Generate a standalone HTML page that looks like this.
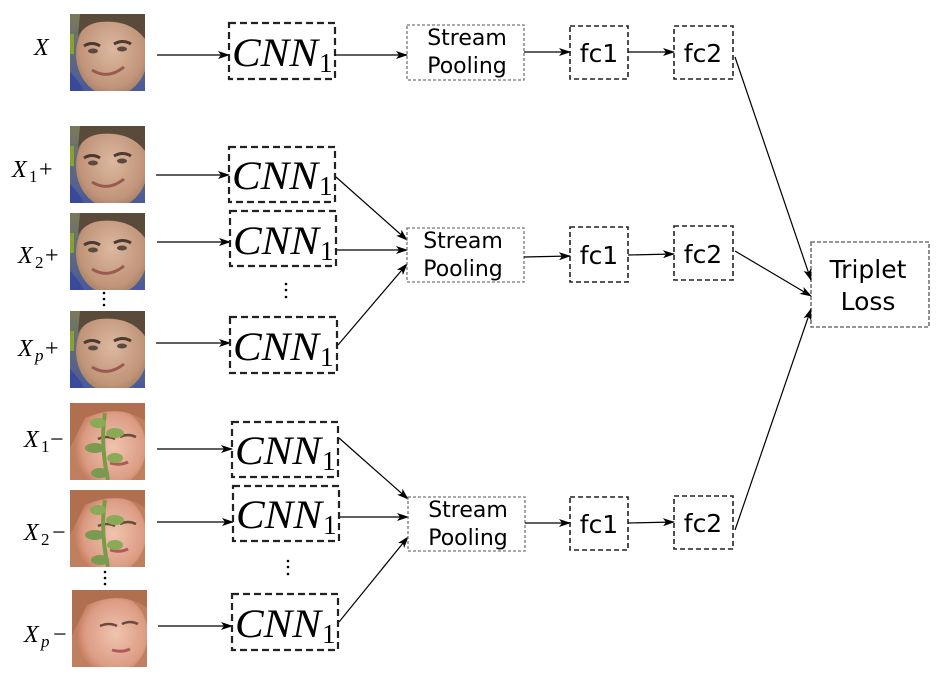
<!DOCTYPE html>
<html><head><meta charset="utf-8"><style>
html,body{margin:0;padding:0;background:#fff;}
svg{display:block}
.cnn{font-family:"Liberation Serif",serif;font-style:italic;font-size:40px;fill:#000}
.sub{font-family:"Liberation Serif",serif;font-size:27px;fill:#000}
.lab{font-family:"Liberation Serif",serif;font-style:italic;font-size:24px;fill:#000}
.labn{font-family:"Liberation Serif",serif;font-size:24px;fill:#000}
.labs{font-family:"Liberation Serif",serif;font-size:17px;fill:#000}
.labsi{font-family:"Liberation Serif",serif;font-style:italic;font-size:17px;fill:#000}
.sans{font-family:"DejaVu Sans","Liberation Sans",sans-serif;font-size:22px;fill:#000}
</style></head><body>
<svg width="945" height="675" viewBox="0 0 945 675" xmlns="http://www.w3.org/2000/svg">
<defs>
<clipPath id="c"><rect width="75" height="77"/></clipPath>
<marker id="a" markerWidth="12" markerHeight="8" refX="11" refY="4" orient="auto" markerUnits="userSpaceOnUse">
<path d="M0,0 L12,4 L0,8 L3,4 z" fill="#000"/></marker>
<linearGradient id="bg1" x1="0" y1="0" x2="0" y2="1"><stop offset="0" stop-color="#7a7a5a"/><stop offset="1" stop-color="#4a5a9a"/></linearGradient>
<radialGradient id="sk1" cx="0.5" cy="0.45" r="0.6"><stop offset="0" stop-color="#dcb8a0"/><stop offset="0.75" stop-color="#c09478"/><stop offset="1" stop-color="#9a7a62"/></radialGradient>
<radialGradient id="sk2" cx="0.55" cy="0.5" r="0.6"><stop offset="0" stop-color="#f0c4ae"/><stop offset="0.7" stop-color="#dc9c84"/><stop offset="1" stop-color="#b8704f"/></radialGradient>
<g id="m"><g clip-path="url(#c)">
<rect width="75" height="77" fill="url(#bg1)"/>
<ellipse cx="42" cy="40" rx="36" ry="42" fill="url(#sk1)"/>
<path d="M10,0 L75,0 L75,25 Q60,5 30,8 Q15,10 8,22z" fill="#5a4a3a"/>
<path d="M14,32 q8,-5 16,0 M44,30 q9,-5 17,0" stroke="#4a3a30" stroke-width="3" fill="none"/>
<ellipse cx="23" cy="37" rx="5" ry="2.5" fill="#5a4a40"/><ellipse cx="52" cy="35" rx="5" ry="2.5" fill="#5a4a40"/>
<path d="M22,56 q16,10 32,-3" stroke="#9a5a50" stroke-width="3" fill="none"/>
<path d="M0,58 q10,10 14,19 L0,77z" fill="#3a4a9a"/>
<rect x="0" y="20" width="4" height="20" fill="#8aa030"/>
</g></g>
<g id="w"><g clip-path="url(#c)">
<rect width="75" height="77" fill="#c08060"/>
<ellipse cx="40" cy="44" rx="36" ry="40" fill="url(#sk2)"/>
<path d="M0,0 L75,0 L75,18 Q50,0 15,15 L0,45z" fill="#b07050"/>
<path d="M28,36 q9,-4 17,0 M50,34 q8,-4 16,0" stroke="#6a4a40" stroke-width="2.5" fill="none"/>
<path d="M40,60 q10,3 18,-1" stroke="#b05a5a" stroke-width="3" fill="none"/>
</g></g>
<g id="leaf"><g clip-path="url(#c)">
<path d="M35,10 Q30,40 38,77" stroke="#7a9a48" stroke-width="4" fill="none"/>
<ellipse cx="28" cy="20" rx="8" ry="5" fill="#8aaa58"/><ellipse cx="45" cy="30" rx="9" ry="5" fill="#8aaa58"/>
<ellipse cx="25" cy="45" rx="10" ry="5" fill="#7a9a50"/><ellipse cx="45" cy="55" rx="8" ry="5" fill="#8aaa58"/>
<ellipse cx="30" cy="70" rx="9" ry="5" fill="#7a9a50"/>
</g></g>
</defs>

<use href="#m" x="70" y="14"/>
<use href="#m" x="70" y="126"/>
<use href="#m" x="70" y="213"/>
<use href="#m" x="70" y="311"/>
<use href="#w" x="70" y="403"/><use href="#leaf" x="70" y="403"/>
<use href="#w" x="70" y="490"/><use href="#leaf" x="70" y="490"/>
<use href="#w" x="72" y="590"/>

<text class="lab" x="34" y="55">X</text>
<text class="lab" x="12" y="177">X</text><text class="labs" x="29" y="182">1</text><text class="labn" x="39" y="177">+</text>
<text class="lab" x="18" y="263">X</text><text class="labs" x="35" y="268">2</text><text class="labn" x="45" y="263">+</text>
<text class="lab" x="18" y="356">X</text><text class="labsi" x="35" y="361">p</text><text class="labn" x="45" y="356">+</text>
<text class="lab" x="24" y="447">X</text><text class="labs" x="41" y="452">1</text><text class="labn" x="50" y="447">−</text>
<text class="lab" x="24" y="540">X</text><text class="labs" x="41" y="545">2</text><text class="labn" x="52" y="540">−</text>
<text class="lab" x="24" y="642">X</text><text class="labsi" x="41" y="647">p</text><text class="labn" x="53" y="642">−</text>
<g fill="#000">
<circle cx="104" cy="293" r="1.3"/><circle cx="104" cy="299" r="1.3"/><circle cx="104" cy="305" r="1.3"/>
<circle cx="105" cy="572" r="1.3"/><circle cx="105" cy="578" r="1.3"/><circle cx="105" cy="584" r="1.3"/>
<circle cx="286" cy="284" r="1.3"/><circle cx="286" cy="290" r="1.3"/><circle cx="286" cy="297" r="1.3"/>
<circle cx="288" cy="561" r="1.3"/><circle cx="288" cy="567" r="1.3"/><circle cx="288" cy="574" r="1.3"/>
</g>

<g stroke="#000" stroke-width="1.3" marker-end="url(#a)">
<line x1="157" y1="55" x2="229" y2="55"/>
<line x1="156" y1="175" x2="229" y2="175"/>
<line x1="157" y1="242" x2="230" y2="242"/>
<line x1="156" y1="343" x2="230" y2="343"/>
<line x1="157" y1="449" x2="232" y2="449"/>
<line x1="157" y1="522" x2="233" y2="522"/>
<line x1="158" y1="626" x2="232" y2="626"/>
</g>

<g fill="none" stroke="#222" stroke-width="2.2" stroke-dasharray="7,4">
<rect x="229" y="23" width="106" height="56"/>
<rect x="229" y="147" width="106" height="55"/>
<rect x="230" y="211" width="106" height="55"/>
<rect x="230" y="317" width="107" height="56"/>
<rect x="232" y="422" width="106" height="55"/>
<rect x="233" y="486" width="106" height="55"/>
<rect x="232" y="594" width="106" height="56"/>
</g>
<g>
<text class="cnn" x="232" y="66" textLength="86" lengthAdjust="spacingAndGlyphs">CNN</text><text class="sub" x="319" y="72">1</text>
<text class="cnn" x="232" y="189" textLength="86" lengthAdjust="spacingAndGlyphs">CNN</text><text class="sub" x="319" y="195">1</text>
<text class="cnn" x="233" y="254" textLength="86" lengthAdjust="spacingAndGlyphs">CNN</text><text class="sub" x="320" y="260">1</text>
<text class="cnn" x="233" y="360" textLength="86" lengthAdjust="spacingAndGlyphs">CNN</text><text class="sub" x="320" y="366">1</text>
<text class="cnn" x="235" y="464" textLength="86" lengthAdjust="spacingAndGlyphs">CNN</text><text class="sub" x="322" y="470">1</text>
<text class="cnn" x="236" y="528" textLength="86" lengthAdjust="spacingAndGlyphs">CNN</text><text class="sub" x="323" y="534">1</text>
<text class="cnn" x="235" y="637" textLength="86" lengthAdjust="spacingAndGlyphs">CNN</text><text class="sub" x="322" y="643">1</text>
</g>

<g stroke="#000" stroke-width="1.2" marker-end="url(#a)">
<line x1="335" y1="55" x2="407" y2="55"/>
<line x1="336" y1="177" x2="407" y2="240"/>
<line x1="337" y1="250" x2="407" y2="250"/>
<line x1="338" y1="345" x2="407" y2="264"/>
<line x1="339" y1="438" x2="408" y2="499"/>
<line x1="340" y1="517" x2="408" y2="517"/>
<line x1="339" y1="622" x2="408" y2="537"/>
</g>

<g fill="none" stroke="#777" stroke-width="1.3" stroke-dasharray="3,2">
<rect x="407" y="25" width="117" height="55"/>
<rect x="407" y="228" width="117" height="54"/>
<rect x="408" y="497" width="117" height="54"/>
</g>
<g text-anchor="middle">
<text x="467" y="45" class="sans">Stream</text><text x="467" y="73" class="sans">Pooling</text>
<text x="463" y="248" class="sans">Stream</text><text x="463" y="276" class="sans">Pooling</text>
<text x="468" y="517" class="sans">Stream</text><text x="468" y="545" class="sans">Pooling</text>
</g>

<g fill="none" stroke="#222" stroke-width="1.6" stroke-dasharray="5,3">
<rect x="570" y="26" width="58" height="53"/>
<rect x="674" y="26" width="59" height="53"/>
<rect x="570" y="227" width="58" height="55"/>
<rect x="674" y="226" width="59" height="54"/>
<rect x="570" y="497" width="58" height="53"/>
<rect x="674" y="496" width="59" height="53"/>
<rect x="811" y="242" width="118" height="85" stroke="#555" stroke-width="1.3" stroke-dasharray="4,2"/>
</g>
<g text-anchor="middle">
<text class="sans" x="599" y="62" style="font-size:25px">fc1</text>
<text class="sans" x="703" y="62" style="font-size:25px">fc2</text>
<text class="sans" x="599" y="264" style="font-size:25px">fc1</text>
<text class="sans" x="703" y="263" style="font-size:25px">fc2</text>
<text class="sans" x="599" y="533" style="font-size:25px">fc1</text>
<text class="sans" x="703" y="532" style="font-size:25px">fc2</text>
<text class="sans" x="868" y="278" style="font-size:25px">Triplet</text>
<text class="sans" x="868" y="310" style="font-size:25px">Loss</text>
</g>

<g stroke="#000" stroke-width="1.2" marker-end="url(#a)">
<line x1="524" y1="52" x2="570" y2="52"/>
<line x1="628" y1="52" x2="674" y2="52"/>
<line x1="524" y1="257" x2="570" y2="256"/>
<line x1="628" y1="255" x2="674" y2="254"/>
<line x1="525" y1="523" x2="570" y2="523"/>
<line x1="628" y1="523" x2="674" y2="522"/>
<line x1="735" y1="57" x2="811" y2="280"/>
<line x1="735" y1="251" x2="811" y2="296"/>
<line x1="735" y1="530" x2="811" y2="309"/>
</g>
</svg>
</body></html>
